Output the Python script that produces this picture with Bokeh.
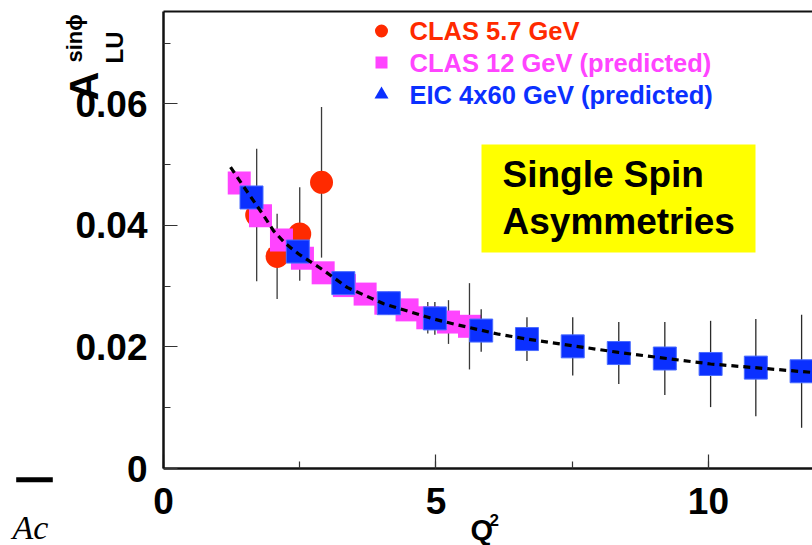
import math

from bokeh.core.properties import value
from bokeh.embed import file_html
from bokeh.models import (BoxAnnotation, CustomJSTickFormatter, FixedTicker, Label,
                          LinearAxis, Range1d, SingleIntervalTicker)
from bokeh.plotting import figure
from bokeh.resources import INLINE

# ---- data -------------------------------------------------------------
# CLAS 5.7 GeV measurements
clas6_q2 = [1.71, 2.085, 2.50, 2.90]
clas6_a = [0.0417, 0.0349, 0.0386, 0.0471]
clas6_err = [0.0109, 0.0070, 0.0077, 0.0124]

# CLAS 12 GeV projection
clas12_q2 = [1.39, 1.78, 2.165, 2.55, 2.93, 3.32, 3.70, 4.08, 4.47, 4.85, 5.23, 5.615]
clas12_a = [0.0470, 0.0416, 0.0376, 0.0346, 0.0322, 0.0301, 0.0287, 0.0272,
            0.0261, 0.0248, 0.0241, 0.0234]
clas12_err = [0.0012, 0.0012, 0.0013, 0.0013, 0.0014, 0.0015, 0.0016, 0.0017,
              0.0018, 0.0026, 0.0036, 0.0071]

# EIC 4x60 GeV projection
eic_q2 = [1.615, 2.465, 3.30, 4.135, 4.98, 5.83, 6.67, 7.51, 8.355, 9.2, 10.04, 10.87, 11.71]
eic_a = [0.0446, 0.0357, 0.0305, 0.0272, 0.0247, 0.0227, 0.0213, 0.0201, 0.0190,
         0.0181, 0.0172, 0.0166, 0.0160]
eic_err = [0.0008, 0.0010, 0.0012, 0.0019, 0.0027, 0.0035, 0.0036, 0.0048, 0.0051,
           0.0060, 0.0071, 0.0080, 0.0093]

# model curve
curve_q2 = [1.23, 1.44, 1.84, 2.02, 2.24, 2.48, 2.94, 3.37, 4.04, 4.96, 5.36,
            6.15, 6.67, 8.35, 10.04, 11.91]
curve_a = [0.0496, 0.0468, 0.0416, 0.0391, 0.0370, 0.0353, 0.0326, 0.0298, 0.0271,
           0.0246, 0.0237, 0.0221, 0.0213, 0.0191, 0.0172, 0.0158]

legend_labels = ["CLAS 5.7 GeV", "CLAS 12 GeV (predicted)", "EIC 4x60 GeV (predicted)"]
box_lines = ["Single Spin", "Asymmetries"]
x_ticks_step = 5
y_ticks_step = 0.02

RED = "#ff2a00"
MAGENTA = "#ff44ff"
BLUE = "#0b30ff"
FONT = "Liberation Sans"

# ---- geometry ----------------------------------------------------------
W, H = 812, 545
X_MAX = 11.91          # axis end at the right edge of the page
Y_MAX = 0.0752         # top of the frame
AX_LEFT, AX_BOTTOM, AX_TOP = 163, 468, 11   # pixel position of the axes box
SX = (W - AX_LEFT) / X_MAX
SY = (AX_BOTTOM - AX_TOP) / Y_MAX

# the canvas is one big frame; the axes sit at fixed data positions inside it
x_lo = -AX_LEFT / SX
y_hi = AX_BOTTOM / SY
y_lo = -(H - AX_BOTTOM) / SY

p = figure(width=W, height=H, output_backend="svg", toolbar_location=None,
           x_range=Range1d(x_lo, X_MAX), y_range=Range1d(y_lo, y_hi),
           min_border=0, min_border_left=0, min_border_right=0,
           min_border_top=0, min_border_bottom=0)
p.background_fill_color = "white"
p.border_fill_color = "white"
p.outline_line_color = None
p.grid.visible = False

xax, yax = p.xaxis[0], p.yaxis[0]
xax.fixed_location = 0
xax.bounds = (0, X_MAX)
yax.fixed_location = 0
yax.bounds = (0, Y_MAX)

for ax in (xax, yax):
    ax.axis_line_width = 2.5
    ax.axis_line_color = "#111111"
    ax.major_tick_in = 14
    ax.major_tick_out = 0
    ax.minor_tick_in = 7
    ax.minor_tick_out = 0
    ax.major_tick_line_color = "#333333"
    ax.minor_tick_line_color = "#333333"
    ax.major_tick_line_width = 1.2
    ax.minor_tick_line_width = 1.2
    ax.major_label_text_font = FONT
    ax.major_label_text_font_style = "bold"
    ax.major_label_text_font_size = "37px"
    ax.major_label_text_color = "black"

xax.ticker = SingleIntervalTicker(interval=x_ticks_step, num_minor_ticks=2)
yax.ticker = SingleIntervalTicker(interval=y_ticks_step, num_minor_ticks=2)
xax.major_label_standoff = 19
yax.major_label_standoff = 16
yax.formatter = CustomJSTickFormatter(
    code="return Math.abs(tick) < 1e-9 ? '0' : tick.toFixed(2);")

# top edge of the axes box
top = LinearAxis(fixed_location=Y_MAX, bounds=(0, X_MAX), ticker=FixedTicker(ticks=[]),
                 axis_line_width=2, axis_line_color="#111111",
                 major_label_text_font_size="0px", major_tick_line_color=None,
                 minor_tick_line_color=None)
p.add_layout(top, "above")

# ---- pixel helpers for free texts ---------------------------------------
def px_x(px):
    return (px - AX_LEFT) / SX

def px_y(py):
    return (AX_BOTTOM - py) / SY

def label(px, py, text, size, angle=0.0, style="bold", font=FONT):
    """Place a text whose vertical middle sits at the given pixel spot."""
    p.add_layout(Label(x=px_x(px), y=px_y(py), text=text, text_font=font,
                       text_font_style=style, text_font_size=size, angle=angle,
                       text_align="left", text_baseline="middle",
                       text_color="black"))

# highlight box
p.add_layout(BoxAnnotation(left=px_x(481), right=px_x(755), top=px_y(144),
                           bottom=px_y(252), fill_color="#ffff00", fill_alpha=1.0,
                           line_color=None, level="underlay"))
p.text(x=[px_x(502)] * 2, y=[px_y(173.5), px_y(221)], text=box_lines,
       text_font=value(FONT), text_font_style="bold", text_font_size="37px",
       text_color="black", text_baseline="middle", text_align="left")

# ---- series -----------------------------------------------------------
def errbars(xs, ys, es, color):
    p.segment(x0=xs, x1=xs, y0=[y - e for y, e in zip(ys, es)],
              y1=[y + e for y, e in zip(ys, es)], line_color=color, line_width=1.3)

errbars(clas6_q2, clas6_a, clas6_err, "#3a3a3a")
p.scatter(clas6_q2, clas6_a, marker="circle", size=23, fill_color=RED, line_color=None)

errbars(clas12_q2, clas12_a, clas12_err, "#3a3a3a")
p.scatter(clas12_q2, clas12_a, marker="square", size=23, fill_color=MAGENTA, line_color=None)

errbars(eic_q2, eic_a, eic_err, "#2a2a2a")
p.scatter(eic_q2, eic_a, marker="square", size=23, fill_color=BLUE,
          line_color="#4a6cff", line_width=1)

p.line(curve_q2, curve_a, line_color="black", line_width=3.2, line_dash="7 5")

# ---- legend -----------------------------------------------------------
leg_rows = [px_y(30.5), px_y(62), px_y(94)]
leg_mx, leg_tx = px_x(381), px_x(409)
p.scatter([leg_mx], [leg_rows[0]], marker="circle", size=13, fill_color=RED, line_color=None)
p.scatter([leg_mx], [leg_rows[1]], marker="square", size=12, fill_color=MAGENTA, line_color=None)
p.scatter([leg_mx], [leg_rows[2]], marker="triangle", size=14, fill_color=BLUE, line_color=None)
p.text(x=[leg_tx] * 3, y=leg_rows, text=legend_labels,
       text_color=[RED, MAGENTA, BLUE], text_font=value(FONT), text_font_style="bold",
       text_font_size="25.5px", text_baseline="middle", text_align="left")

# ---- axis titles --------------------------------------------------------
# y title: A with superscript sin(phi) and subscript LU, reading upwards
label(83, 100, "A", "40px", angle=math.pi / 2)
label(74, 62, "sin\u03d5", "22px", angle=math.pi / 2)
label(114, 63, "LU", "24px", angle=math.pi / 2)

# x title: Q^2
label(470, 529, "Q", "29px")
label(489, 519, "2", "17px")

# fragments at the lower left
p.add_layout(BoxAnnotation(left=px_x(15.7), right=px_x(52.3), top=px_y(476.7),
                           bottom=px_y(481.7), fill_color="black", fill_alpha=1.0,
                           line_color=None))
label(12, 527, "Ac", "34px", style="italic", font="Liberation Serif")

open("out.html", "w").write(file_html(p, INLINE))
